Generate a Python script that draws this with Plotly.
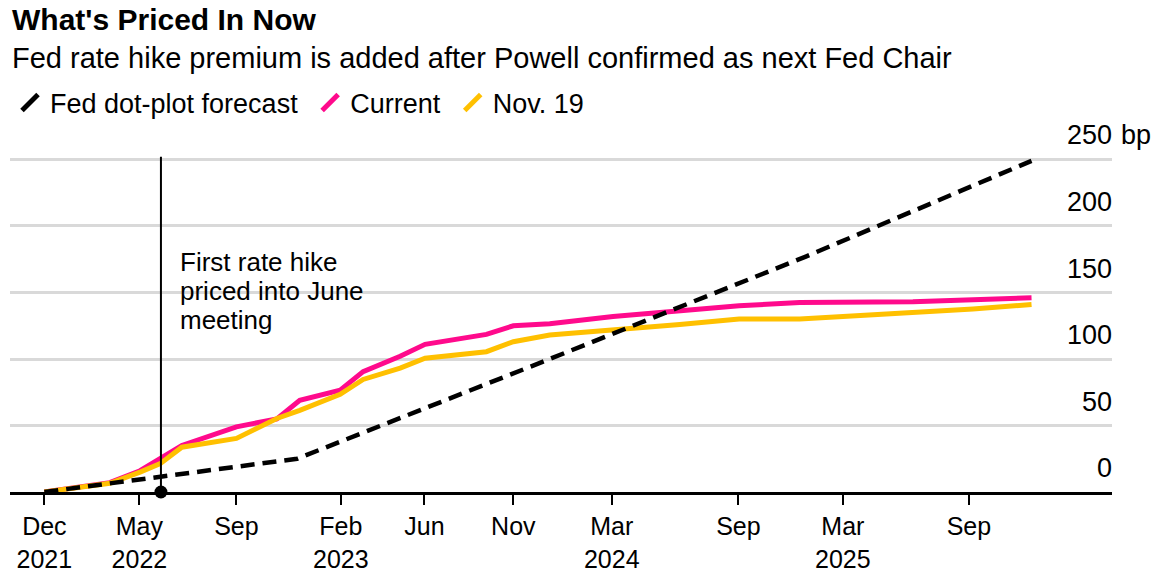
import plotly.graph_objects as go

# ---------------- data ----------------
title_text = "What's Priced In Now"
subtitle_text = "Fed rate hike premium is added after Powell confirmed as next Fed Chair"
note_lines = ["First rate hike", "priced into June", "meeting"]

current_dates = ["2021-12-15", "2022-03-22", "2022-05-06", "2022-06-05", "2022-07-07",
                 "2022-09-26", "2022-11-25", "2022-12-29", "2023-02-27", "2023-04-02",
                 "2023-05-27", "2023-07-03", "2023-10-02", "2023-11-11", "2024-01-04",
                 "2024-04-07", "2024-07-15", "2024-10-11", "2025-01-09", "2025-06-26",
                 "2025-12-19"]
current_bp = [0, 7, 16, 25, 35, 49, 55, 69, 76.5, 90.5,
              102, 111, 118.5, 125, 126.5, 132, 136.5, 140, 142.5, 143, 146]

nov19_dates = ["2021-12-15", "2022-03-22", "2022-05-06", "2022-06-05", "2022-07-07",
               "2022-09-26", "2022-11-25", "2022-12-29", "2023-02-27", "2023-04-02",
               "2023-05-27", "2023-07-03", "2023-10-02", "2023-11-11", "2024-01-04",
               "2024-04-07", "2024-07-15", "2024-10-11", "2025-01-09", "2025-09-23",
               "2025-12-19"]
nov19_bp = [0, 6.5, 15, 21.3, 33.7, 40.3, 55.3, 61.4, 73.5, 84.6,
            93.2, 100.6, 105.5, 113, 118, 121.6, 126, 130, 130, 137.5, 141]

dot_dates = ["2021-12-15", "2022-12-25", "2024-01-04", "2025-01-18", "2025-12-19"]
dot_bp = [0, 25, 100, 177, 249]

first_hike_date = "2022-06-06"
first_hike_line_bp = [0, 252]

x_tick_dates = ["2021-12-15", "2022-05-05", "2022-09-26", "2023-02-28", "2023-07-02",
                "2023-11-11", "2024-04-05", "2024-10-10", "2025-03-14", "2025-09-17"]
x_tick_labels = ["Dec<br>2021", "May<br>2022", "Sep", "Feb<br>2023", "Jun",
                 "Nov", "Mar<br>2024", "Sep", "Mar<br>2025", "Sep"]
y_ticks = [0, 50, 100, 150, 200, 250]
y_tick_labels = ["0", "50", "100", "150", "200", "250"]
y_unit = "bp"

series_names = ["Fed dot-plot forecast", "Current", "Nov. 19"]

# ---------------- style ----------------
FONT = "Liberation Sans, Arial, sans-serif"
PINK = "#ff0a8c"
YELLOW = "#ffc000"
BLACK = "#000000"
GRID = "#d9d9d9"

fig = go.Figure()

fig.add_trace(go.Scatter(x=current_dates, y=current_bp, mode="lines",
                         line=dict(color=PINK, width=5), showlegend=False,
                         name=series_names[1]))
fig.add_trace(go.Scatter(x=nov19_dates, y=nov19_bp, mode="lines",
                         line=dict(color=YELLOW, width=5), showlegend=False,
                         name=series_names[2]))
fig.add_trace(go.Scatter(x=dot_dates, y=dot_bp, mode="lines",
                         line=dict(color=BLACK, width=4.5, dash="14px,8px"),
                         showlegend=False, name=series_names[0]))

# vertical marker line with dot
fig.add_trace(go.Scatter(x=[first_hike_date, first_hike_date], y=first_hike_line_bp,
                         mode="lines", line=dict(color=BLACK, width=2),
                         showlegend=False, hoverinfo="skip", cliponaxis=False))
fig.add_trace(go.Scatter(x=[first_hike_date], y=[first_hike_line_bp[0]], mode="markers",
                         marker=dict(color=BLACK, size=13), showlegend=False,
                         hoverinfo="skip", cliponaxis=False))

# legend entries (slash keys); a non-breaking space widens the gap between entries
legend_pad = ["\u00a0", "\u00a0", ""]
for nm, pad, col in zip(series_names, legend_pad, [BLACK, PINK, YELLOW]):
    fig.add_trace(go.Scatter(x=[None], y=[None], mode="markers", name=nm + pad,
                             marker=dict(symbol="line-ne", size=16,
                                         line=dict(color=col, width=5))))

annotations = []
annotations.append(dict(text="<b>" + title_text + "</b>", xref="paper", yref="paper",
                        x=0, xshift=0, y=1.355, xanchor="left", yanchor="middle",
                        showarrow=False, font=dict(family=FONT, size=30, color=BLACK)))
annotations.append(dict(text=subtitle_text, xref="paper", yref="paper",
                        x=0, xshift=0, y=1.2436, xanchor="left", yanchor="middle",
                        showarrow=False, font=dict(family=FONT, size=29, color=BLACK)))
for i, line in enumerate(note_lines):
    annotations.append(dict(text=line, x=first_hike_date, y=173, xref="x", yref="y",
                            xanchor="left", yanchor="middle", align="left", xshift=17,
                            yshift=-29 * i, showarrow=False,
                            font=dict(family=FONT, size=26, color=BLACK)))
for v, lab in zip(y_ticks, y_tick_labels):
    annotations.append(dict(text=lab, x=1, xref="paper", y=v, yref="y", yshift=24,
                            xshift=2, xanchor="right", yanchor="middle", showarrow=False,
                            font=dict(family=FONT, size=27, color=BLACK)))
annotations.append(dict(text=y_unit, x=1, xref="paper", y=y_ticks[-1], yref="y",
                        yshift=24, xshift=7, xanchor="left", yanchor="middle",
                        showarrow=False, font=dict(family=FONT, size=27, color=BLACK)))

fig.update_layout(
    width=1160, height=587,
    margin=dict(l=10, r=48, t=143, b=95),
    paper_bgcolor="white", plot_bgcolor="white",
    font=dict(family=FONT, size=25, color=BLACK),
    showlegend=True,
    legend=dict(orientation="h", x=0, xanchor="left", y=1.1146, yanchor="middle",
                font=dict(family=FONT, size=27, color=BLACK), bgcolor="rgba(0,0,0,0)",
                itemwidth=30, traceorder="normal"),
    annotations=annotations,
    xaxis=dict(type="date", range=["2021-10-25", "2026-04-17 10:00"],
               showgrid=False, zeroline=False,
               showline=True, linecolor=BLACK, linewidth=3,
               ticks="outside", ticklen=10, tickwidth=2, tickcolor=BLACK,
               tickvals=x_tick_dates, ticktext=x_tick_labels,
               tickfont=dict(family=FONT, size=25, color=BLACK)),
    yaxis=dict(range=[0, 262.4], tickvals=y_ticks, showticklabels=False,
               showgrid=True, gridcolor=GRID, gridwidth=2.5, zeroline=False,
               showline=False, ticks=""),
)

fig.write_html("out.html", config={"displayModeBar": False},
               post_script="document.body.style.margin='0';")
